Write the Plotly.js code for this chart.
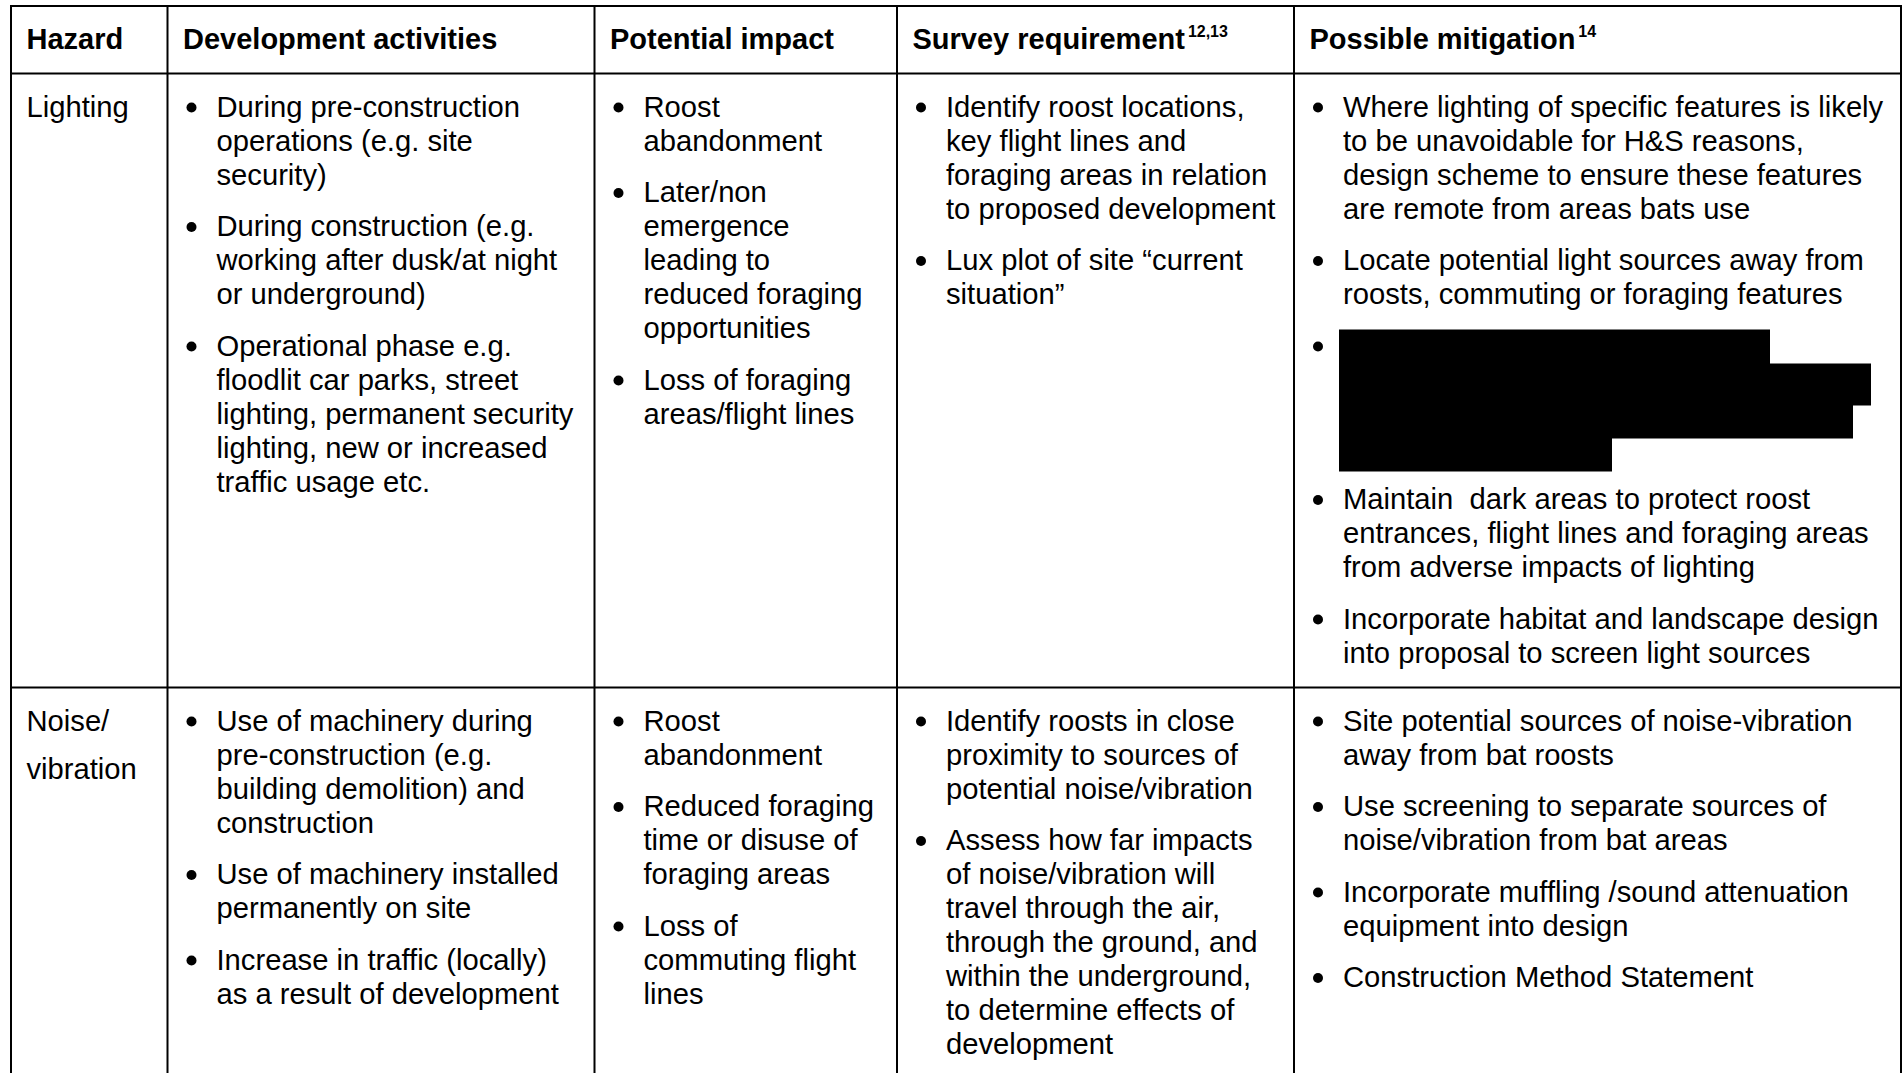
<!DOCTYPE html>
<html>
<head>
<meta charset="utf-8">
<script src="https://cdn.plot.ly/plotly-3.0.1.min.js"></script>
<style>html,body{margin:0;padding:0;background:#fff;overflow:hidden}</style>
</head>
<body>
<div id="chart" style="width:1904px;height:1073px"></div>
<script>
// ================= DATA =================
const headers = [
  "Hazard",
  "Development activities",
  "Potential impact",
  "Survey requirement",
  "Possible mitigation"
];
// footnote references shown as superscripts after the headers
const headerNotes = ["", "", "", "12,13", "14"];

// one entry per table row; each entry is the list of text lines in the cell
const hazards = [
  ["Lighting"],
  ["Noise/", "vibration"]
];

// each cell = list of bullets, each bullet = list of wrapped lines
const developmentActivities = [
  [
    ["During pre-construction", "operations (e.g. site", "security)"],
    ["During construction (e.g.", "working after dusk/at night", "or underground)"],
    ["Operational phase e.g.", "floodlit car parks, street", "lighting, permanent security", "lighting, new or increased", "traffic usage etc."]
  ],
  [
    ["Use of machinery during", "pre-construction (e.g.", "building demolition) and", "construction"],
    ["Use of machinery installed", "permanently on site"],
    ["Increase in traffic (locally)", "as a result of development"]
  ]
];

const potentialImpact = [
  [
    ["Roost", "abandonment"],
    ["Later/non", "emergence", "leading to", "reduced foraging", "opportunities"],
    ["Loss of foraging", "areas/flight lines"]
  ],
  [
    ["Roost", "abandonment"],
    ["Reduced foraging", "time or disuse of", "foraging areas"],
    ["Loss of", "commuting flight", "lines"]
  ]
];

const surveyRequirement = [
  [
    ["Identify roost locations,", "key flight lines and", "foraging areas in relation", "to proposed development"],
    ["Lux plot of site \u201ccurrent", "situation\u201d"]
  ],
  [
    ["Identify roosts in close", "proximity to sources of", "potential noise/vibration"],
    ["Assess how far impacts", "of noise/vibration will", "travel through the air,", "through the ground, and", "within the underground,", "to determine effects of", "development"]
  ]
];

const REDACTED = null; // blacked-out line in the source document

const possibleMitigation = [
  [
    ["Where lighting of specific features is likely", "to be unavoidable for H&S reasons,", "design scheme to ensure these features", "are remote from areas bats use"],
    ["Locate potential light sources away from", "roosts, commuting or foraging features"],
    [REDACTED, REDACTED, REDACTED, REDACTED],
    ["Maintain\u00a0 dark areas to protect roost", "entrances, flight lines and foraging areas", "from adverse impacts of lighting"],
    ["Incorporate habitat and landscape design", "into proposal to screen light sources"]
  ],
  [
    ["Site potential sources of noise-vibration", "away from bat roosts"],
    ["Use screening to separate sources of", "noise/vibration from bat areas"],
    ["Incorporate muffling /sound attenuation", "equipment into design"],
    ["Construction Method Statement"]
  ]
];

// ================= STYLE / GEOMETRY =================
const W = 1904, H = 1073;
const colEdges = [11, 167.5, 594.5, 897, 1294, 1901];
const tableTop = 6;
const FONT = "Liberation Sans, Arial, sans-serif";
const fontSize = 29.2, headerFontSize = 29;
const noteFontSize = 16, noteRise = 12, noteGap = 3;
const lineStep = 34, paraGap = 17.5;
const padTop = 43.5, padBottom = 24.5;
const hazardLineStep = 48.5;
const headerInset = 15.5, bulletInset = 24, textInset = 49;
const bulletSize = 10, bulletRise = 9.5;
const gridWidth = 2;
// redaction boxes, relative to text start and line baseline
const redactStyle = [
  {right: 427, top: -26.5, bottom: 8.5},
  {right: 528, top: -26.5, bottom: 15.5},
  {right: 510, top: -19.5, bottom: 14.5},
  {right: 269, top: -20.5, bottom: 13.5}
];
const redactLeft = -4;

// ================= BUILD =================
const bodyColumns = [developmentActivities, potentialImpact, surveyRequirement, possibleMitigation];
const dyOf = s => s * 0.25; // plotly 'middle' text: baseline = y + 0.25*size

const measureCtx = document.createElement("canvas").getContext("2d");
function textWidth(t, size, bold) {
  measureCtx.font = (bold ? "bold " : "") + size + "px " + FONT;
  return measureCtx.measureText(t).width;
}

const hdr = {x: [], y: [], text: []};
const notes = {x: [], y: [], text: []};
const body = {x: [], y: [], text: []};
const bullets = {x: [], y: []};
const shapes = [];

// header row
const rowEdges = [tableTop];
const hb = tableTop + padTop - 0.5;
headers.forEach((h, c) => {
  const hx = colEdges[c] + headerInset;
  hdr.x.push(hx);
  hdr.y.push(hb - dyOf(headerFontSize));
  hdr.text.push("<b>" + h + "</b>");
  if (headerNotes[c]) {
    notes.x.push(hx + textWidth(h, headerFontSize, true) + noteGap);
    notes.y.push(hb - noteRise - dyOf(noteFontSize));
    notes.text.push("<b>" + headerNotes[c] + "</b>");
  }
});
rowEdges.push(hb + padBottom);

// body rows
for (let r = 0; r < hazards.length; r++) {
  const top = rowEdges[rowEdges.length - 1];
  const first = top + padTop;
  let last = first;
  hazards[r].forEach((t, j) => {
    const b = first + j * hazardLineStep;
    body.x.push(colEdges[0] + headerInset);
    body.y.push(b - dyOf(fontSize));
    body.text.push(t);
    last = Math.max(last, b);
  });
  bodyColumns.forEach((col, ci) => {
    const c = ci + 1;
    let b = first;
    col[r].forEach((bullet, i) => {
      if (i > 0) b += lineStep + paraGap;
      bullets.x.push(colEdges[c] + bulletInset);
      bullets.y.push(b - bulletRise);
      bullet.forEach((line, j) => {
        if (j > 0) b += lineStep;
        const tx = colEdges[c] + textInset;
        if (line === REDACTED) {
          const s = redactStyle[j % redactStyle.length];
          shapes.push({type: "rect", xref: "x", yref: "y",
            x0: tx + redactLeft, x1: tx + s.right, y0: b + s.top, y1: b + s.bottom,
            fillcolor: "#000", line: {width: 0}, layer: "above"});
        } else {
          body.x.push(tx);
          body.y.push(b - dyOf(fontSize));
          body.text.push(line);
        }
      });
    });
    last = Math.max(last, b);
  });
  rowEdges.push(last + padBottom);
}

// grid lines
const tableBottom = rowEdges[rowEdges.length - 1];
colEdges.forEach(x => shapes.push({type: "line", xref: "x", yref: "y",
  x0: x, x1: x, y0: tableTop - gridWidth / 2, y1: tableBottom + gridWidth / 2,
  line: {color: "#000", width: gridWidth}, layer: "above"}));
rowEdges.forEach(y => shapes.push({type: "line", xref: "x", yref: "y",
  x0: colEdges[0], x1: colEdges[colEdges.length - 1], y0: y, y1: y,
  line: {color: "#000", width: gridWidth}, layer: "above"}));

const traces = [
  {type: "scatter", mode: "text", x: hdr.x, y: hdr.y, text: hdr.text,
   textposition: "middle right", textfont: {family: FONT, size: headerFontSize, color: "#000"},
   hoverinfo: "skip", cliponaxis: false},
  {type: "scatter", mode: "text", x: notes.x, y: notes.y, text: notes.text,
   textposition: "middle right", textfont: {family: FONT, size: noteFontSize, color: "#000"},
   hoverinfo: "skip", cliponaxis: false},
  {type: "scatter", mode: "text", x: body.x, y: body.y, text: body.text,
   textposition: "middle right", textfont: {family: FONT, size: fontSize, color: "#000"},
   hoverinfo: "skip", cliponaxis: false},
  {type: "scatter", mode: "markers", x: bullets.x, y: bullets.y,
   marker: {symbol: "circle", size: bulletSize, color: "#000", line: {width: 0}},
   hoverinfo: "skip", cliponaxis: false}
];

const layout = {
  width: W, height: H,
  margin: {l: 0, r: 0, t: 0, b: 0, pad: 0},
  paper_bgcolor: "#fff", plot_bgcolor: "#fff",
  showlegend: false,
  xaxis: {range: [0, W], visible: false, fixedrange: true},
  yaxis: {range: [H, 0], visible: false, fixedrange: true},
  shapes: shapes,
  font: {family: FONT, color: "#000"}
};

Plotly.newPlot("chart", traces, layout, {staticPlot: true, displayModeBar: false});
</script>
</body>
</html>
